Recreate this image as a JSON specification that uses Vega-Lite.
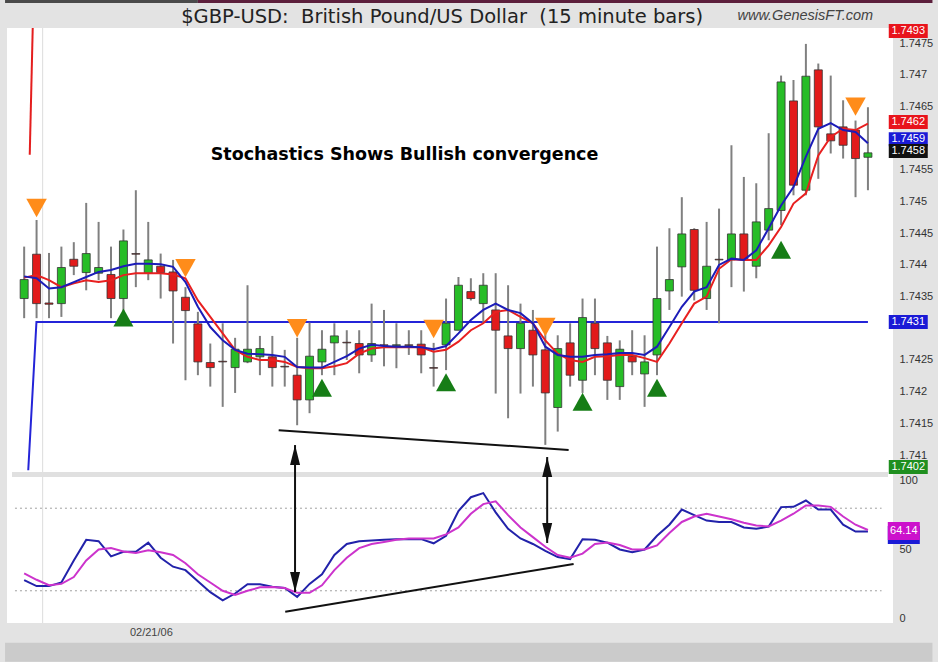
{
  "$schema": "https://vega.github.io/schema/vega-lite/v6.json",
  "width": 886,
  "height": 595,
  "autosize": {"type": "none"},
  "padding": {"left": 7, "top": 28, "right": 45, "bottom": 39},
  "background": "#e3e3e3",
  "config": {
    "view": {"stroke": null, "fill": "white"},
    "axis": {"domain": false, "ticks": false, "grid": false, "labelFont": "Liberation Sans", "labelFontSize": 11, "labelColor": "#333333", "labelPadding": 6, "labelFlush": false, "labelOverlap": false}
  },
  "datasets": {
    "bars": [
      {"i":0,"o":1.74347,"h":1.74429,"l":1.74316,"c":1.74377,"f":1.74382,"s":1.74380,"k":27.7,"d":32.6},
      {"i":1,"o":1.74417,"h":1.74471,"l":1.74316,"c":1.74339,"f":1.74379,"s":1.74384,"k":23.4,"d":28},
      {"i":2,"o":1.74340,"h":1.74419,"l":1.74316,"c":1.74338,"f":1.74363,"s":1.74376,"k":23.4,"d":24},
      {"i":3,"o":1.74339,"h":1.74429,"l":1.74318,"c":1.74396,"f":1.74365,"s":1.74365,"k":26,"d":25},
      {"i":4,"o":1.74409,"h":1.74436,"l":1.74384,"c":1.74398,"f":1.74373,"s":1.74371,"k":42,"d":30},
      {"i":5,"o":1.74388,"h":1.74498,"l":1.74360,"c":1.74418,"f":1.74381,"s":1.74376,"k":57,"d":42},
      {"i":6,"o":1.74387,"h":1.74468,"l":1.74376,"c":1.74396,"f":1.74389,"s":1.74373,"k":56,"d":50},
      {"i":7,"o":1.74385,"h":1.74429,"l":1.74316,"c":1.74347,"f":1.74392,"s":1.74376,"k":45,"d":51},
      {"i":8,"o":1.74347,"h":1.74456,"l":1.74316,"c":1.74438,"f":1.74398,"s":1.74384,"k":48.4,"d":48.5},
      {"i":9,"o":1.74418,"h":1.74518,"l":1.74365,"c":1.74417,"f":1.74402,"s":1.74387,"k":48.4,"d":47.5},
      {"i":10,"o":1.74387,"h":1.74468,"l":1.74376,"c":1.74408,"f":1.74402,"s":1.74387,"k":55,"d":49.5},
      {"i":11,"o":1.74398,"h":1.74418,"l":1.74347,"c":1.74388,"f":1.74401,"s":1.74387,"k":44,"d":48},
      {"i":12,"o":1.74389,"h":1.74408,"l":1.74276,"c":1.74359,"f":1.74397,"s":1.74385,"k":37.5,"d":46},
      {"i":13,"o":1.74349,"h":1.74365,"l":1.74218,"c":1.74328,"f":1.74373,"s":1.74379,"k":35,"d":40},
      {"i":14,"o":1.74307,"h":1.74326,"l":1.74226,"c":1.74247,"f":1.74334,"s":1.74344,"k":27,"d":32},
      {"i":15,"o":1.74246,"h":1.74276,"l":1.74208,"c":1.74238,"f":1.74302,"s":1.74318,"k":19,"d":26},
      {"i":16,"o":1.74248,"h":1.74308,"l":1.74176,"c":1.74247,"f":1.74281,"s":1.74292,"k":13,"d":20},
      {"i":17,"o":1.74238,"h":1.74285,"l":1.74198,"c":1.74267,"f":1.74266,"s":1.74266,"k":18,"d":17},
      {"i":18,"o":1.74247,"h":1.74368,"l":1.74245,"c":1.74267,"f":1.74260,"s":1.74255,"k":24.8,"d":20},
      {"i":19,"o":1.74255,"h":1.74288,"l":1.74226,"c":1.74268,"f":1.74259,"s":1.74250,"k":24.8,"d":22.5},
      {"i":20,"o":1.74255,"h":1.74288,"l":1.74208,"c":1.74238,"f":1.74258,"s":1.74250,"k":23,"d":22.8},
      {"i":21,"o":1.74240,"h":1.74266,"l":1.74208,"c":1.74239,"f":1.74255,"s":1.74247,"k":22,"d":22},
      {"i":22,"o":1.74226,"h":1.74285,"l":1.74147,"c":1.74187,"f":1.74239,"s":1.74239,"k":15.6,"d":18.5},
      {"i":23,"o":1.74187,"h":1.74309,"l":1.74166,"c":1.74256,"f":1.74238,"s":1.74237,"k":25,"d":18.5},
      {"i":24,"o":1.74247,"h":1.74297,"l":1.74226,"c":1.74267,"f":1.74238,"s":1.74237,"k":32,"d":24},
      {"i":25,"o":1.74277,"h":1.74308,"l":1.74226,"c":1.74288,"f":1.74247,"s":1.74240,"k":46,"d":35},
      {"i":26,"o":1.74278,"h":1.74297,"l":1.74250,"c":1.74277,"f":1.74256,"s":1.74245,"k":54,"d":44},
      {"i":27,"o":1.74276,"h":1.74297,"l":1.74229,"c":1.74258,"f":1.74268,"s":1.74260,"k":56,"d":51},
      {"i":28,"o":1.74258,"h":1.74339,"l":1.74247,"c":1.74276,"f":1.74274,"s":1.74268,"k":56.5,"d":54},
      {"i":29,"o":1.74274,"h":1.74329,"l":1.74240,"c":1.74273,"f":1.74272,"s":1.74270,"k":57,"d":55.5},
      {"i":30,"o":1.74273,"h":1.74308,"l":1.74237,"c":1.74274,"f":1.74271,"s":1.74270,"k":57.4,"d":57},
      {"i":31,"o":1.74274,"h":1.74297,"l":1.74258,"c":1.74273,"f":1.74271,"s":1.74270,"k":57.5,"d":58},
      {"i":32,"o":1.74275,"h":1.74297,"l":1.74229,"c":1.74258,"f":1.74270,"s":1.74270,"k":57.5,"d":58},
      {"i":33,"o":1.74238,"h":1.74277,"l":1.74208,"c":1.74237,"f":1.74267,"s":1.74263,"k":54.5,"d":58},
      {"i":34,"o":1.74274,"h":1.74347,"l":1.74234,"c":1.74308,"f":1.74272,"s":1.74266,"k":60,"d":61},
      {"i":35,"o":1.74297,"h":1.74381,"l":1.74297,"c":1.74368,"f":1.74292,"s":1.74279,"k":78,"d":66},
      {"i":36,"o":1.74358,"h":1.74379,"l":1.74344,"c":1.74347,"f":1.74313,"s":1.74297,"k":88,"d":76},
      {"i":37,"o":1.74339,"h":1.74387,"l":1.74308,"c":1.74368,"f":1.74329,"s":1.74308,"k":91,"d":83},
      {"i":38,"o":1.74329,"h":1.74387,"l":1.74197,"c":1.74297,"f":1.74339,"s":1.74326,"k":77,"d":85},
      {"i":39,"o":1.74288,"h":1.74368,"l":1.74158,"c":1.74268,"f":1.74329,"s":1.74329,"k":65,"d":75},
      {"i":40,"o":1.74268,"h":1.74339,"l":1.74197,"c":1.74308,"f":1.74324,"s":1.74318,"k":58,"d":66},
      {"i":41,"o":1.74297,"h":1.74329,"l":1.74208,"c":1.74258,"f":1.74308,"s":1.74308,"k":54,"d":59},
      {"i":42,"o":1.74266,"h":1.74292,"l":1.74116,"c":1.74198,"f":1.74271,"s":1.74281,"k":49,"d":52},
      {"i":43,"o":1.74175,"h":1.74289,"l":1.74137,"c":1.74268,"f":1.74258,"s":1.74260,"k":44.5,"d":46},
      {"i":44,"o":1.74277,"h":1.74308,"l":1.74208,"c":1.74226,"f":1.74255,"s":1.74250,"k":43,"d":44},
      {"i":45,"o":1.74218,"h":1.74347,"l":1.74198,"c":1.74317,"f":1.74255,"s":1.74247,"k":57.4,"d":47},
      {"i":46,"o":1.74308,"h":1.74347,"l":1.74226,"c":1.74268,"f":1.74258,"s":1.74255,"k":57,"d":54},
      {"i":47,"o":1.74277,"h":1.74288,"l":1.74187,"c":1.74218,"f":1.74259,"s":1.74256,"k":55,"d":55},
      {"i":48,"o":1.74208,"h":1.74281,"l":1.74187,"c":1.74267,"f":1.74261,"s":1.74258,"k":50,"d":53.3},
      {"i":49,"o":1.74256,"h":1.74297,"l":1.74226,"c":1.74247,"f":1.74261,"s":1.74258,"k":48,"d":50},
      {"i":50,"o":1.74228,"h":1.74289,"l":1.74176,"c":1.74247,"f":1.74258,"s":1.74253,"k":50,"d":50},
      {"i":51,"o":1.74258,"h":1.74429,"l":1.74226,"c":1.74347,"f":1.74271,"s":1.74247,"k":60,"d":53},
      {"i":52,"o":1.74359,"h":1.74458,"l":1.74329,"c":1.74377,"f":1.74302,"s":1.74276,"k":68,"d":62},
      {"i":53,"o":1.74397,"h":1.74507,"l":1.74350,"c":1.74449,"f":1.74334,"s":1.74308,"k":79,"d":70},
      {"i":54,"o":1.74456,"h":1.74458,"l":1.74344,"c":1.74360,"f":1.74358,"s":1.74339,"k":75,"d":74},
      {"i":55,"o":1.74347,"h":1.74468,"l":1.74329,"c":1.74398,"f":1.74365,"s":1.74350,"k":71,"d":76},
      {"i":56,"o":1.74409,"h":1.74489,"l":1.74308,"c":1.74408,"f":1.74400,"s":1.74394,"k":70,"d":74},
      {"i":57,"o":1.74408,"h":1.74589,"l":1.74365,"c":1.74449,"f":1.74410,"s":1.74409,"k":70,"d":72},
      {"i":58,"o":1.74449,"h":1.74539,"l":1.74358,"c":1.74408,"f":1.74408,"s":1.74408,"k":66,"d":69.5},
      {"i":59,"o":1.74398,"h":1.74529,"l":1.74379,"c":1.74468,"f":1.74423,"s":1.74408,"k":65,"d":67.5},
      {"i":60,"o":1.74455,"h":1.74608,"l":1.74439,"c":1.74489,"f":1.74458,"s":1.74431,"k":66.7,"d":66.7},
      {"i":61,"o":1.74486,"h":1.74699,"l":1.74463,"c":1.74689,"f":1.74494,"s":1.74460,"k":80.8,"d":71},
      {"i":62,"o":1.74659,"h":1.74692,"l":1.74510,"c":1.74526,"f":1.74523,"s":1.74497,"k":81,"d":76},
      {"i":63,"o":1.74518,"h":1.74749,"l":1.74510,"c":1.74698,"f":1.74571,"s":1.74513,"k":85.6,"d":82},
      {"i":64,"o":1.74708,"h":1.74718,"l":1.74536,"c":1.74618,"f":1.74615,"s":1.74573,"k":79,"d":82},
      {"i":65,"o":1.74607,"h":1.74699,"l":1.74576,"c":1.74596,"f":1.74624,"s":1.74602,"k":79,"d":81},
      {"i":66,"o":1.74618,"h":1.74660,"l":1.74568,"c":1.74589,"f":1.74613,"s":1.74615,"k":68,"d":74},
      {"i":67,"o":1.74613,"h":1.74628,"l":1.74507,"c":1.74568,"f":1.74610,"s":1.74613,"k":63,"d":68},
      {"i":68,"o":1.74570,"h":1.74649,"l":1.74518,"c":1.74577,"f":1.74592,"s":1.74623,"k":63,"d":64.2}
    ],
    "sells": [
      {"i":1,"p":1.74490},{"i":13,"p":1.74395},{"i":22,"p":1.74300},{"i":33,"p":1.74299},{"i":42,"p":1.74302},{"i":67,"p":1.74650}
    ],
    "buys": [
      {"i":8,"p":1.74317},{"i":24,"p":1.74206},{"i":34,"p":1.74215},{"i":45,"p":1.74184},{"i":51,"p":1.74206},{"i":61,"p":1.74424}
    ],
    "stopBlue": [
      {"i":0.33,"p":1.74076},{"i":0.99,"p":1.7431},{"i":68.0,"p":1.7431}
    ],
    "stopRed": [
      {"i":0.45,"p":1.74574},{"i":0.69,"p":1.74774}
    ],
    "trendTop": [
      {"i":20.51,"p":1.74139},{"i":43.88,"p":1.74108}
    ],
    "trendLow": [
      {"i":21.04,"v":4.8},{"i":44.28,"v":39.5}
    ],
    "tags": [
      {"label":"1.7493","kind":"red","i":71.25,"p":1.747694},
      {"label":"1.7462","kind":"red","i":71.25,"p":1.746257},
      {"label":"1.7459","kind":"blue","i":71.25,"p":1.745985},
      {"label":"1.7458","kind":"black","i":71.25,"p":1.7458},
      {"label":"1.7431","kind":"blue","i":71.25,"p":1.7431},
      {"label":"1.7402","kind":"green","i":71.25,"p":1.74081}
    ],
    "arrows": [
      {"i":21.83,"top":125.9,"bottom":19.1},
      {"i":42.15,"top":117.2,"bottom":54.7}
    ]
  },
  "layer": [
    {
      "layer": [
        {
          "data": {"values": [{"i": 1.49}]},
          "mark": {"type": "rule", "color": "#dddddd", "strokeWidth": 1},
          "encoding": {
            "x": {"field": "i", "type": "quantitative", "scale": {"domain": [-0.98, 69.617], "nice": false, "zero": false}, "axis": null}
          }
        },
        {
          "data": {"values": [{"a": -1.54, "b": 14.0, "y1": 1.748136, "y2": 1.748183}]},
          "mark": {"type": "rect", "color": "#4a4a4a"},
          "encoding": {
            "x": {"field": "a", "type": "quantitative", "scale": {"domain": [-0.98, 69.617], "nice": false, "zero": false}, "axis": null},
            "x2": {"field": "b"},
            "y": {"field": "y1", "type": "quantitative", "title": null, "scale": {"domain": [1.738348, 1.747741], "nice": false, "zero": false}},
            "y2": {"field": "y2"}
          }
        },
        {
          "data": {"values": [{"a": 14.0, "b": 73.2, "y1": 1.748136, "y2": 1.748183}]},
          "mark": {"type": "rect", "color": "#5c1f3c"},
          "encoding": {
            "x": {"field": "a", "type": "quantitative", "scale": {"domain": [-0.98, 69.617], "nice": false, "zero": false}, "axis": null},
            "x2": {"field": "b"},
            "y": {"field": "y1", "type": "quantitative", "title": null, "scale": {"domain": [1.738348, 1.747741], "nice": false, "zero": false}},
            "y2": {"field": "y2"}
          }
        },
        {
          "data": {"name": "stopBlue"},
          "mark": {"type": "line", "color": "#2424d8", "strokeWidth": 2},
          "encoding": {
            "x": {"field": "i", "type": "quantitative", "scale": {"domain": [-0.98, 69.617], "nice": false, "zero": false}, "axis": null},
            "y": {"field": "p", "type": "quantitative", "title": null, "scale": {"domain": [1.738348, 1.747741], "nice": false, "zero": false},
                  "axis": {"orient": "right", "values": [1.741, 1.7415, 1.742, 1.7425, 1.7435, 1.744, 1.7445, 1.745, 1.7455, 1.7465, 1.747, 1.7475], "format": ".4~f"}}
          }
        },
        {
          "data": {"name": "stopRed"},
          "mark": {"type": "line", "color": "#e41e1e", "strokeWidth": 2},
          "encoding": {
            "x": {"field": "i", "type": "quantitative", "scale": {"domain": [-0.98, 69.617], "nice": false, "zero": false}, "axis": null},
            "y": {"field": "p", "type": "quantitative", "title": null, "scale": {"domain": [1.738348, 1.747741], "nice": false, "zero": false}}
          }
        },
        {
          "data": {"name": "bars"},
          "mark": {"type": "rule", "color": "#808080", "strokeWidth": 2},
          "encoding": {
            "x": {"field": "i", "type": "quantitative", "scale": {"domain": [-0.98, 69.617], "nice": false, "zero": false}, "axis": null},
            "y": {"field": "l", "type": "quantitative", "title": null, "scale": {"domain": [1.738348, 1.747741], "nice": false, "zero": false}},
            "y2": {"field": "h"}
          }
        },
        {
          "data": {"name": "bars"},
          "mark": {"type": "bar", "size": 8, "stroke": "#333333", "strokeWidth": 0.8},
          "encoding": {
            "x": {"field": "i", "type": "quantitative", "scale": {"domain": [-0.98, 69.617], "nice": false, "zero": false}, "axis": null},
            "y": {"field": "o", "type": "quantitative", "title": null, "scale": {"domain": [1.738348, 1.747741], "nice": false, "zero": false}},
            "y2": {"field": "c"},
            "color": {"condition": {"test": "datum.c >= datum.o", "value": "#27bd27"}, "value": "#e21b1b"}
          }
        },
        {
          "data": {"name": "bars"},
          "mark": {"type": "line", "color": "#e82020", "strokeWidth": 2},
          "encoding": {
            "x": {"field": "i", "type": "quantitative", "scale": {"domain": [-0.98, 69.617], "nice": false, "zero": false}, "axis": null},
            "y": {"field": "s", "type": "quantitative", "title": null, "scale": {"domain": [1.738348, 1.747741], "nice": false, "zero": false}}
          }
        },
        {
          "data": {"name": "bars"},
          "mark": {"type": "line", "color": "#1c1cb8", "strokeWidth": 2},
          "encoding": {
            "x": {"field": "i", "type": "quantitative", "scale": {"domain": [-0.98, 69.617], "nice": false, "zero": false}, "axis": null},
            "y": {"field": "f", "type": "quantitative", "title": null, "scale": {"domain": [1.738348, 1.747741], "nice": false, "zero": false}}
          }
        },
        {
          "data": {"name": "trendTop"},
          "mark": {"type": "line", "color": "#111111", "strokeWidth": 2},
          "encoding": {
            "x": {"field": "i", "type": "quantitative", "scale": {"domain": [-0.98, 69.617], "nice": false, "zero": false}, "axis": null},
            "y": {"field": "p", "type": "quantitative", "title": null, "scale": {"domain": [1.738348, 1.747741], "nice": false, "zero": false}}
          }
        },
        {
          "data": {"name": "sells"},
          "mark": {"type": "point", "shape": "M-1,-0.9L1,-0.9L0,0.9Z", "size": 420, "filled": true, "color": "#ff8c1a", "opacity": 1},
          "encoding": {
            "x": {"field": "i", "type": "quantitative", "scale": {"domain": [-0.98, 69.617], "nice": false, "zero": false}, "axis": null},
            "y": {"field": "p", "type": "quantitative", "title": null, "scale": {"domain": [1.738348, 1.747741], "nice": false, "zero": false}}
          }
        },
        {
          "data": {"name": "buys"},
          "mark": {"type": "point", "shape": "M0,-0.9L1,0.9L-1,0.9Z", "size": 400, "filled": true, "color": "#167d16", "opacity": 1},
          "encoding": {
            "x": {"field": "i", "type": "quantitative", "scale": {"domain": [-0.98, 69.617], "nice": false, "zero": false}, "axis": null},
            "y": {"field": "p", "type": "quantitative", "title": null, "scale": {"domain": [1.738348, 1.747741], "nice": false, "zero": false}}
          }
        },
        {
          "data": {"values": [{"t": "Stochastics Shows Bullish convergence", "i": 15.03, "p": 1.745736}]},
          "mark": {"type": "text", "align": "left", "baseline": "middle", "font": "DejaVu Sans", "fontSize": 17.5, "fontWeight": "bold", "color": "#000000"},
          "encoding": {
            "x": {"field": "i", "type": "quantitative", "scale": {"domain": [-0.98, 69.617], "nice": false, "zero": false}, "axis": null},
            "y": {"field": "p", "type": "quantitative", "title": null, "scale": {"domain": [1.738348, 1.747741], "nice": false, "zero": false}},
            "text": {"field": "t"}
          }
        },
        {
          "data": {"values": [{"t": "$GBP-USD:\u00a0 British Pound/US Dollar\u00a0 (15 minute bars)", "i": 33.68, "p": 1.74792}]},
          "mark": {"type": "text", "align": "center", "baseline": "middle", "font": "DejaVu Sans", "fontSize": 19.5, "color": "#222222"},
          "encoding": {
            "x": {"field": "i", "type": "quantitative", "scale": {"domain": [-0.98, 69.617], "nice": false, "zero": false}, "axis": null},
            "y": {"field": "p", "type": "quantitative", "title": null, "scale": {"domain": [1.738348, 1.747741], "nice": false, "zero": false}},
            "text": {"field": "t"}
          }
        },
        {
          "data": {"values": [{"t": "www.GenesisFT.com", "i": 62.95, "p": 1.74793}]},
          "mark": {"type": "text", "align": "center", "baseline": "middle", "font": "Liberation Sans", "fontSize": 14.5, "fontStyle": "italic", "color": "#444444"},
          "encoding": {
            "x": {"field": "i", "type": "quantitative", "scale": {"domain": [-0.98, 69.617], "nice": false, "zero": false}, "axis": null},
            "y": {"field": "p", "type": "quantitative", "title": null, "scale": {"domain": [1.738348, 1.747741], "nice": false, "zero": false}},
            "text": {"field": "t"}
          }
        },
        {
          "data": {"name": "tags"},
          "mark": {"type": "point", "shape": "M-1,-0.36L1,-0.36L1,0.36L-1,0.36Z", "size": 1521, "filled": true, "opacity": 1},
          "encoding": {
            "x": {"field": "i", "type": "quantitative", "scale": {"domain": [-0.98, 69.617], "nice": false, "zero": false}, "axis": null},
            "y": {"field": "p", "type": "quantitative", "title": null, "scale": {"domain": [1.738348, 1.747741], "nice": false, "zero": false}},
            "color": {"field": "kind", "type": "nominal", "legend": null, "scale": {"domain": ["red", "blue", "black", "green"], "range": ["#e8141c", "#1a1ad6", "#111111", "#1f8f1f"]}}
          }
        },
        {
          "data": {"name": "tags"},
          "mark": {"type": "text", "align": "center", "baseline": "middle", "font": "Liberation Sans", "fontSize": 11, "color": "white"},
          "encoding": {
            "x": {"field": "i", "type": "quantitative", "scale": {"domain": [-0.98, 69.617], "nice": false, "zero": false}, "axis": null},
            "y": {"field": "p", "type": "quantitative", "title": null, "scale": {"domain": [1.738348, 1.747741], "nice": false, "zero": false}},
            "text": {"field": "label"}
          }
        }
      ]
    },
    {
      "layer": [
        {
          "data": {"values": [{"a": -0.98, "b": 69.617, "y1": 102.7, "y2": 106.3}]},
          "mark": {"type": "rect", "color": "#e0e0e0"},
          "encoding": {
            "x": {"field": "a", "type": "quantitative", "scale": {"domain": [-0.98, 69.617], "nice": false, "zero": false}, "axis": null},
            "x2": {"field": "b"},
            "y": {"field": "y1", "type": "quantitative", "title": null, "scale": {"domain": [-3.42, 429.0], "nice": false, "zero": false},
                  "axis": {"orient": "right", "values": [0, 50, 100]}},
            "y2": {"field": "y2"}
          }
        },
        {
          "data": {"values": [{"a": -1.54, "b": 73.2, "y1": -31.5, "y2": -17.7}]},
          "mark": {"type": "rect", "color": "#cbcbcb"},
          "encoding": {
            "x": {"field": "a", "type": "quantitative", "scale": {"domain": [-0.98, 69.617], "nice": false, "zero": false}, "axis": null},
            "x2": {"field": "b"},
            "y": {"field": "y1", "type": "quantitative", "title": null, "scale": {"domain": [-3.42, 429.0], "nice": false, "zero": false}},
            "y2": {"field": "y2"}
          }
        },
        {
          "data": {"values": [{"a": -0.74, "b": 69.1, "v": 80}, {"a": -0.74, "b": 69.1, "v": 20}]},
          "mark": {"type": "rule", "color": "#a0a0a0", "strokeWidth": 1, "strokeDash": [2, 3]},
          "encoding": {
            "x": {"field": "a", "type": "quantitative", "scale": {"domain": [-0.98, 69.617], "nice": false, "zero": false}, "axis": null},
            "x2": {"field": "b"},
            "y": {"field": "v", "type": "quantitative", "title": null, "scale": {"domain": [-3.42, 429.0], "nice": false, "zero": false}}
          }
        },
        {
          "data": {"name": "bars"},
          "mark": {"type": "line", "color": "#2222aa", "strokeWidth": 2},
          "encoding": {
            "x": {"field": "i", "type": "quantitative", "scale": {"domain": [-0.98, 69.617], "nice": false, "zero": false}, "axis": null},
            "y": {"field": "k", "type": "quantitative", "title": null, "scale": {"domain": [-3.42, 429.0], "nice": false, "zero": false}}
          }
        },
        {
          "data": {"name": "bars"},
          "mark": {"type": "line", "color": "#cc33cc", "strokeWidth": 2},
          "encoding": {
            "x": {"field": "i", "type": "quantitative", "scale": {"domain": [-0.98, 69.617], "nice": false, "zero": false}, "axis": null},
            "y": {"field": "d", "type": "quantitative", "title": null, "scale": {"domain": [-3.42, 429.0], "nice": false, "zero": false}}
          }
        },
        {
          "data": {"name": "trendLow"},
          "mark": {"type": "line", "color": "#111111", "strokeWidth": 2},
          "encoding": {
            "x": {"field": "i", "type": "quantitative", "scale": {"domain": [-0.98, 69.617], "nice": false, "zero": false}, "axis": null},
            "y": {"field": "v", "type": "quantitative", "title": null, "scale": {"domain": [-3.42, 429.0], "nice": false, "zero": false}}
          }
        },
        {
          "data": {"name": "arrows"},
          "mark": {"type": "rule", "color": "#111111", "strokeWidth": 2},
          "encoding": {
            "x": {"field": "i", "type": "quantitative", "scale": {"domain": [-0.98, 69.617], "nice": false, "zero": false}, "axis": null},
            "y": {"field": "top", "type": "quantitative", "title": null, "scale": {"domain": [-3.42, 429.0], "nice": false, "zero": false}},
            "y2": {"field": "bottom"}
          }
        },
        {
          "data": {"name": "arrows"},
          "mark": {"type": "point", "shape": "M0,0L0.5,2L-0.5,2Z", "size": 400, "filled": true, "color": "#111111", "opacity": 1},
          "encoding": {
            "x": {"field": "i", "type": "quantitative", "scale": {"domain": [-0.98, 69.617], "nice": false, "zero": false}, "axis": null},
            "y": {"field": "top", "type": "quantitative", "title": null, "scale": {"domain": [-3.42, 429.0], "nice": false, "zero": false}}
          }
        },
        {
          "data": {"name": "arrows"},
          "mark": {"type": "point", "shape": "M0,0L0.5,-2L-0.5,-2Z", "size": 400, "filled": true, "color": "#111111", "opacity": 1},
          "encoding": {
            "x": {"field": "i", "type": "quantitative", "scale": {"domain": [-0.98, 69.617], "nice": false, "zero": false}, "axis": null},
            "y": {"field": "bottom", "type": "quantitative", "title": null, "scale": {"domain": [-3.42, 429.0], "nice": false, "zero": false}}
          }
        },
        {
          "data": {"values": [{"i": 70.89, "v": 60.5}]},
          "mark": {"type": "point", "shape": "M-1,-0.56L1,-0.56L1,0.56L-1,0.56Z", "size": 1024, "filled": true, "color": "#1a1ad6", "opacity": 1},
          "encoding": {
            "x": {"field": "i", "type": "quantitative", "scale": {"domain": [-0.98, 69.617], "nice": false, "zero": false}, "axis": null},
            "y": {"field": "v", "type": "quantitative", "title": null, "scale": {"domain": [-3.42, 429.0], "nice": false, "zero": false}}
          }
        },
        {
          "data": {"values": [{"i": 70.89, "v": 63.4, "t": "64.14"}]},
          "mark": {"type": "point", "shape": "M-1,-0.56L1,-0.56L1,0.56L-1,0.56Z", "size": 1024, "filled": true, "color": "#cc11cc", "opacity": 1},
          "encoding": {
            "x": {"field": "i", "type": "quantitative", "scale": {"domain": [-0.98, 69.617], "nice": false, "zero": false}, "axis": null},
            "y": {"field": "v", "type": "quantitative", "title": null, "scale": {"domain": [-3.42, 429.0], "nice": false, "zero": false}}
          }
        },
        {
          "data": {"values": [{"i": 70.89, "v": 63.4, "t": "64.14"}]},
          "mark": {"type": "text", "align": "center", "baseline": "middle", "font": "Liberation Sans", "fontSize": 11, "color": "white"},
          "encoding": {
            "x": {"field": "i", "type": "quantitative", "scale": {"domain": [-0.98, 69.617], "nice": false, "zero": false}, "axis": null},
            "y": {"field": "v", "type": "quantitative", "title": null, "scale": {"domain": [-3.42, 429.0], "nice": false, "zero": false}},
            "text": {"field": "t"}
          }
        },
        {
          "data": {"values": [{"i": 10.25, "v": -10.7, "t": "02/21/06"}]},
          "mark": {"type": "text", "align": "center", "baseline": "middle", "font": "Liberation Sans", "fontSize": 11, "color": "#444444"},
          "encoding": {
            "x": {"field": "i", "type": "quantitative", "scale": {"domain": [-0.98, 69.617], "nice": false, "zero": false}, "axis": null},
            "y": {"field": "v", "type": "quantitative", "title": null, "scale": {"domain": [-3.42, 429.0], "nice": false, "zero": false}},
            "text": {"field": "t"}
          }
        }
      ]
    }
  ],
  "resolve": {"scale": {"y": "independent"}, "axis": {"y": "independent"}}
}
